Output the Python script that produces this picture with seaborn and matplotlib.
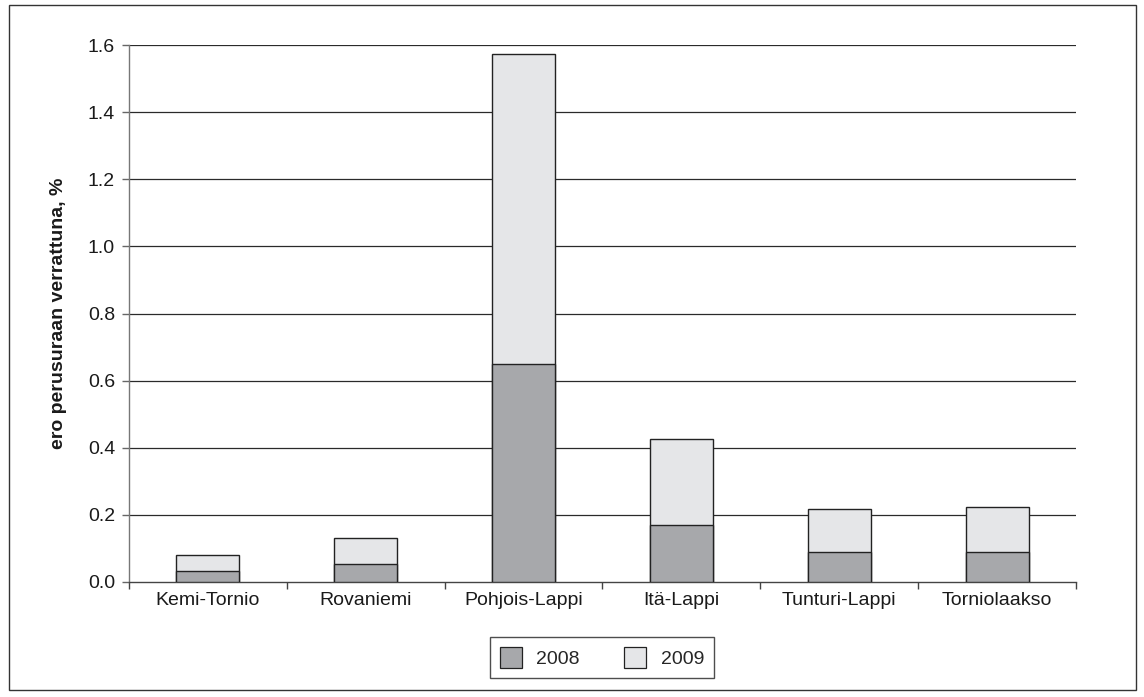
import matplotlib
matplotlib.use("Agg")
import matplotlib.pyplot as plt
import seaborn as sns
import pandas as pd
import numpy as np
from matplotlib.patches import Rectangle
from matplotlib.ticker import FixedLocator

# Regions and the change versus baseline (percentage points), stacked by year
regions = ["Kemi-Tornio", "Rovaniemi", "Pohjois-Lappi", "Itä-Lappi", "Tunturi-Lappi", "Torniolaakso"]
v2008 = [0.033, 0.053, 0.650, 0.171, 0.089, 0.089]
v2009 = [0.048, 0.077, 0.922, 0.255, 0.129, 0.134]
years = ["2008", "2009"]
y_ticks = [0.0, 0.2, 0.4, 0.6, 0.8, 1.0, 1.2, 1.4, 1.6]

c2008 = "#a7a8ab"
c2009 = "#e5e6e8"
FS = 14

sns.set_theme(style="white")
plt.rcParams["font.family"] = ["Liberation Sans", "DejaVu Sans"]

df = pd.DataFrame({"alue": regions, "2008": v2008, "2009": v2009})
df["yht"] = df["2008"] + df["2009"]

fig = plt.figure(figsize=(11.44, 6.97), dpi=100)
ax = fig.add_axes([129 / 1144, 1 - 582 / 697, (1076 - 129) / 1144, (582 - 45) / 697])

for y in y_ticks[1:]:
    ax.axhline(y, color="#2a2a2a", lw=0.9, zorder=0)

sns.barplot(data=df, x="alue", y="yht", color=c2009, width=0.4, edgecolor="#222222",
            linewidth=1.0, saturation=1, ax=ax, zorder=2)
sns.barplot(data=df, x="alue", y="2008", color=c2008, width=0.4, edgecolor="#222222",
            linewidth=1.0, saturation=1, ax=ax, zorder=3)

ax.set_xlim(-0.5, len(regions) - 0.5)
ax.set_ylim(0, 1.6)
ax.set_yticks(y_ticks)
ax.set_yticklabels([f"{t:.1f}" for t in y_ticks], fontsize=FS, color="#1a1a1a")
ax.set_xlabel("")
ax.set_ylabel("ero perusuraan verrattuna, %", fontsize=FS, fontweight="bold", color="#1a1a1a")
ax.yaxis.set_label_coords((67 - 129) / 947, 0.5)
ax.tick_params(axis="x", which="major", length=0, labelsize=FS, pad=7, labelcolor="#1a1a1a")
ax.xaxis.set_minor_locator(FixedLocator(np.arange(-0.5, len(regions), 1.0)))
ax.tick_params(axis="x", which="minor", length=5, width=1, color="#444444", direction="out", bottom=True)
ax.tick_params(axis="y", which="major", length=5, width=1, color="#666666", direction="out", left=True, pad=5)

for s in ["top", "right"]:
    ax.spines[s].set_visible(False)
ax.spines["left"].set_color("#777777")
ax.spines["left"].set_linewidth(1.0)
ax.spines["bottom"].set_color("#444444")
ax.spines["bottom"].set_linewidth(1.0)

handles = [Rectangle((0, 0), 1, 1, facecolor=c, edgecolor="#222222", lw=0.9) for c in (c2008, c2009)]
fig.legend(handles, years, loc="center", bbox_to_anchor=(602 / 1144, 1 - 657.5 / 697), ncol=2,
           frameon=True, fancybox=False, edgecolor="#222222", fontsize=FS, handlelength=1.13,
           handleheight=1.25, columnspacing=2.3, handletextpad=0.75, borderpad=0.5,
           borderaxespad=0)

fig.patches.append(Rectangle((9 / 1144, 1 - 690 / 697), (1136 - 9) / 1144, (690 - 5) / 697,
                             transform=fig.transFigure, fill=False, edgecolor="#333333", lw=1.0))

fig.savefig("out.png", dpi=100, facecolor="white")
